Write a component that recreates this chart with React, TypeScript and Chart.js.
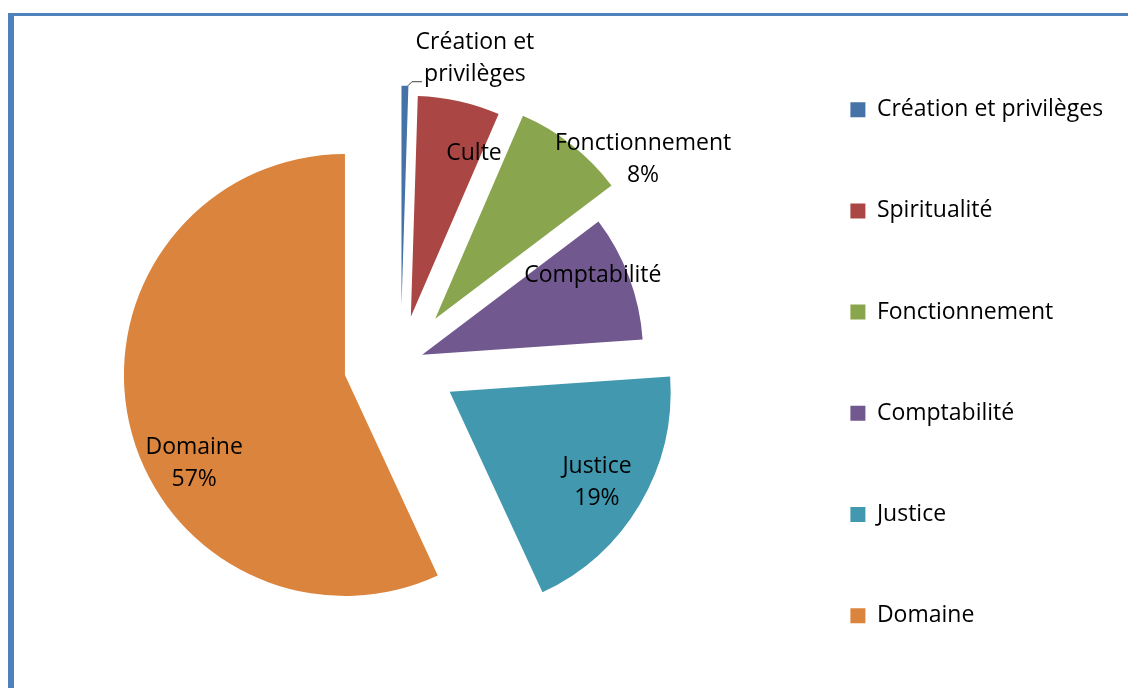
import React, { useEffect, useRef } from "react";
import { Chart, registerables } from "chart.js";

Chart.register(...registerables);

// ---- data ----
const CATEGORIES = [
  "Création et privilèges",
  "Spiritualité",
  "Fonctionnement",
  "Comptabilité",
  "Justice",
  "Domaine",
];
const VALUES = [0.5, 6.0, 8.2, 9.2, 19.2, 56.9];
const DATA_LABEL_NAMES = [
  ["Création et", "privilèges"],
  ["Culte"],
  ["Fonctionnement"],
  ["Comptabilité"],
  ["Justice"],
  ["Domaine"],
];
const SHOW_PERCENT = [false, false, true, false, true, true];

// ---- styling ----
const COLORS = ["#4572A7", "#AA4643", "#89A54E", "#71588F", "#4198AF", "#DB843D"];
const EXPLODE = [56, 47, 56, 23, 57, 57]; // px each slice is pulled out
const LABEL_SHIFT_DEG = [15.56, 8.52, 14.3, -4.48, 1.05, -17.98];
const LABEL_RADIUS = [1.173, 0.793, 1.186, 0.852, 0.783, 0.791];
const LEADER = [true, false, false, false, false, false];
const FONT_FAMILY = "'Open Sans', 'Noto Sans', sans-serif";
const FONT_SIZE = 23;
const LINE_HEIGHT = 32;
const CANVAS_W = 1128;
const CANVAS_H = 720;

const explodePlugin = {
  id: "explodeSlices",
  beforeDatasetDraw(chart: any, args: any) {
    const ctx = chart.ctx;
    const meta = args.meta;
    meta.data.forEach((arc: any, i: number) => {
      const { startAngle, endAngle } = arc.getProps(["startAngle", "endAngle"], true);
      const mid = (startAngle + endAngle) / 2;
      const d = EXPLODE[i] || 0;
      ctx.save();
      ctx.translate(Math.cos(mid) * d, Math.sin(mid) * d);
      arc.draw(ctx, chart.chartArea);
      ctx.restore();
    });
    return false;
  },
};

const labelPlugin = {
  id: "sliceLabels",
  afterDatasetsDraw(chart: any) {
    const ctx = chart.ctx;
    const meta = chart.getDatasetMeta(0);
    const data = chart.data.datasets[0].data as number[];
    const total = data.reduce((a, b) => a + b, 0);
    ctx.save();
    ctx.font = `${FONT_SIZE}px ${FONT_FAMILY}`;
    ctx.fillStyle = "#000";
    ctx.textAlign = "center";
    ctx.textBaseline = "middle";
    meta.data.forEach((arc: any, i: number) => {
      const { x, y, startAngle, endAngle, outerRadius } = arc.getProps(
        ["x", "y", "startAngle", "endAngle", "outerRadius"],
        true
      );
      const mid = (startAngle + endAngle) / 2;
      const d = EXPLODE[i] || 0;
      const ax = x + Math.cos(mid) * d;
      const ay = y + Math.sin(mid) * d;
      const la = mid + (LABEL_SHIFT_DEG[i] * Math.PI) / 180;
      const lr = LABEL_RADIUS[i] * outerRadius;
      const cx = ax + Math.cos(la) * lr;
      const cy = ay + Math.sin(la) * lr;
      const lines = [...DATA_LABEL_NAMES[i]];
      if (SHOW_PERCENT[i]) lines.push(Math.round((data[i] / total) * 100) + "%");
      lines.forEach((t, k) => {
        ctx.fillText(t, cx, cy + (k - (lines.length - 1) / 2) * LINE_HEIGHT);
      });
      if (LEADER[i]) {
        const ox = ax + Math.cos(mid) * outerRadius + 3;
        const oy = ay + Math.sin(mid) * outerRadius;
        ctx.strokeStyle = "#404040";
        ctx.lineWidth = 1;
        ctx.beginPath();
        ctx.moveTo(ox, oy);
        ctx.lineTo(ox + 4, oy - 4);
        ctx.lineTo(ox + 14, oy - 4);
        ctx.stroke();
      }
    });
    ctx.restore();
  },
};

export default function App() {
  const canvasRef = useRef<HTMLCanvasElement | null>(null);

  useEffect(() => {
    const canvas = canvasRef.current;
    if (!canvas) return;
    const chart = new Chart(canvas, {
      type: "pie",
      data: {
        labels: CATEGORIES,
        datasets: [
          {
            data: VALUES,
            backgroundColor: COLORS,
            borderWidth: 0,
            radius: 221,
          } as any,
        ],
      },
      options: {
        responsive: false,
        animation: false,
        layout: { padding: { left: 29, right: 25.8, top: 10, bottom: CANVAS_H - 715.4 } },
        plugins: {
          legend: {
            position: "right",
            align: "center",
            maxWidth: 330,
            labels: {
              boxWidth: 15,
              boxHeight: 15,
              padding: 78.2,
              color: "#000",
              font: { family: FONT_FAMILY, size: FONT_SIZE },
            },
          } as any,
          tooltip: { enabled: false },
        },
      },
      plugins: [explodePlugin, labelPlugin],
    });
    return () => chart.destroy();
  }, []);

  return (
    <div
      style={{
        position: "fixed",
        left: 0,
        top: 0,
        right: 0,
        bottom: 0,
        overflow: "hidden",
        background: "#fff",
      }}
    >
      <div
        style={{
          position: "absolute",
          left: 8,
          top: 13,
          width: 1400,
          height: 900,
          borderLeft: "6px solid #4F81BD",
          borderTop: "3px solid #4F81BD",
          boxSizing: "border-box",
        }}
      />
      <canvas
        ref={canvasRef}
        width={CANVAS_W}
        height={CANVAS_H}
        style={{ position: "absolute", left: 0, top: 0, width: CANVAS_W, height: CANVAS_H }}
      />
    </div>
  );
}
